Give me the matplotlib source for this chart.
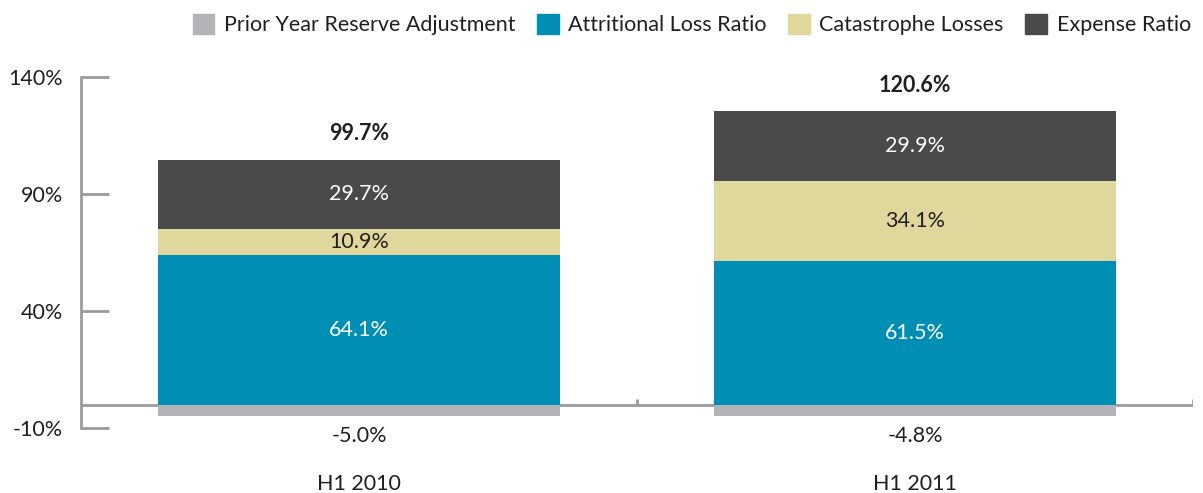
import matplotlib.pyplot as plt
from matplotlib.patches import Patch

plt.rcParams['font.family'] = ['Lato', 'DejaVu Sans']

periods = ["H1 2010", "H1 2011"]
prior_year = [-5.0, -4.8]
attritional = [64.1, 61.5]
catastrophe = [10.9, 34.1]
expense = [29.7, 29.9]
totals = ["99.7%", "120.6%"]

c_prior = "#b3b4b8"
c_attr = "#008fb4"
c_cat = "#e0d79c"
c_exp = "#4a4a4d"
axis_col = "#9a9b9f"
txt = "#231f20"
fs = 15.5

fig = plt.figure(figsize=(12.03, 4.93), dpi=100)
ax = fig.add_axes([0.0673, 0.1318, 0.9244, 0.712])

x = range(len(periods))
w = 0.724
ax.bar(x, prior_year, w, color=c_prior, zorder=3)
ax.bar(x, attritional, w, color=c_attr, zorder=3)
bot2 = [a for a in attritional]
ax.bar(x, catastrophe, w, bottom=bot2, color=c_cat, zorder=3)
bot3 = [a + c for a, c in zip(attritional, catastrophe)]
ax.bar(x, expense, w, bottom=bot3, color=c_exp, zorder=3)

for i in x:
    ax.text(i, attritional[i] / 2, f"{attritional[i]:.1f}%", ha="center", va="center",
            color="white", fontsize=fs)
    ax.text(i, bot2[i] + catastrophe[i] / 2, f"{catastrophe[i]:.1f}%", ha="center",
            va="center", color=txt, fontsize=fs)
    ax.text(i, bot3[i] + expense[i] / 2, f"{expense[i]:.1f}%", ha="center", va="center",
            color="white", fontsize=fs)
    top = bot3[i] + expense[i]
    ax.annotate(totals[i], (i, top), xytext=(0, 11), textcoords="offset points",
                ha="center", va="bottom", fontsize=fs, fontweight="bold", color=txt)
    ax.annotate(f"{prior_year[i]:.1f}%", (i, prior_year[i]), xytext=(0, -7),
                textcoords="offset points", ha="center", va="top", fontsize=fs, color=txt)

ax.set_xlim(-0.5, 1.5)
ax.set_ylim(-10, 140)
ax.set_yticks([-10, 40, 90, 140])
ax.set_yticklabels(["-10%", "40%", "90%", "140%"], fontsize=fs, color=txt)
ax.tick_params(axis="y", direction="in", length=20, width=2, color=axis_col, pad=13)

ax.set_xticks(list(x))
ax.set_xticklabels(periods, fontsize=fs, color=txt)
ax.tick_params(axis="x", which="major", length=0, pad=33)

for s in ["top", "right", "bottom"]:
    ax.spines[s].set_visible(False)
ax.spines["left"].set_color(axis_col)
ax.spines["left"].set_linewidth(2)
ax.axhline(0, color=axis_col, lw=2, zorder=2)
# small upward marks on the zero line between categories
for xm in [0.5, 1.5]:
    ax.plot([xm, xm], [0, 2.6], color=axis_col, lw=2, zorder=2, solid_capstyle="butt")

handles = [Patch(color=c_prior, label="Prior Year Reserve Adjustment"),
           Patch(color=c_attr, label="Attritional Loss Ratio"),
           Patch(color=c_cat, label="Catastrophe Losses"),
           Patch(color=c_exp, label="Expense Ratio")]
leg = fig.legend(handles=handles, loc="upper right", bbox_to_anchor=(1.006, 1.01), ncol=4,
                 frameon=False, fontsize=fs, handlelength=1.0, handleheight=1.0,
                 handletextpad=0.45, columnspacing=1.0)
for t in leg.get_texts():
    t.set_color(txt)

fig.savefig("out.png", dpi=100)
